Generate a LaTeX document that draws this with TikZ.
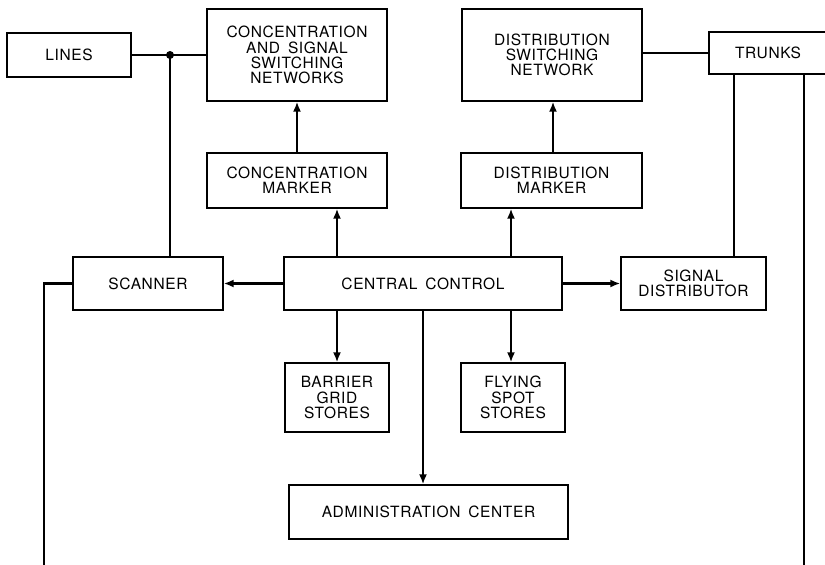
\documentclass[tikz,border=0pt]{standalone}
\usepackage{fontspec}
\setmainfont{TeX Gyre Heros}[LetterSpace=4, WordSpace=1.6]
\usetikzlibrary{arrows.meta}
\begin{document}
\begin{tikzpicture}[x=1pt,y=-1pt,
  box/.style={draw, line width=1.3pt, align=center, inner sep=0pt,
    font=\fontsize{15.5}{15.3}\selectfont},
  conn/.style={line width=2.6pt},
  arr/.style={conn, -{Latex[length=10pt,width=8pt]}}]
\useasboundingbox (0,0) rectangle (825,565);
% boxes
\node[box, minimum width=124pt, minimum height=44pt] (lines) at (69,55) {LINES};
\node[box, minimum width=180pt, minimum height=92pt] (conc) at (297,55) {CONCENTRATION\\AND SIGNAL\\SWITCHING\\NETWORKS};
\node[box, minimum width=180pt, minimum height=92pt] (dist) at (552,55) {DISTRIBUTION\\SWITCHING\\NETWORK};
\node[box, minimum width=118pt, minimum height=42pt] (trunks) at (768,53) {TRUNKS};
\node[box, minimum width=180pt, minimum height=55pt] (cm) at (297,180.5) {CONCENTRATION\\MARKER};
\node[box, minimum width=181pt, minimum height=55pt] (dm) at (551.5,180.5) {DISTRIBUTION\\MARKER};
\node[box, minimum width=278pt, minimum height=53pt] (cc) at (423,283.5) {CENTRAL CONTROL};
\node[box, minimum width=150pt, minimum height=53pt] (scan) at (148,283.5) {SCANNER};
\node[box, minimum width=145pt, minimum height=53pt] (sd) at (693.5,283.5) {SIGNAL\\DISTRIBUTOR};
\node[box, minimum width=104pt, minimum height=69pt] (bg) at (337,397.5) {BARRIER\\GRID\\STORES};
\node[box, minimum width=104pt, minimum height=69pt] (fs) at (513,397.5) {FLYING\\SPOT\\STORES};
\node[box, minimum width=279pt, minimum height=54pt] (adm) at (428.5,512) {ADMINISTRATION CENTER};
% coordinates
\coordinate (jn) at (170,55);
\coordinate (bl) at (44,565);
\coordinate (br) at (804,565);
\coordinate (t1) at (734,0);
\coordinate (c1) at (297,0);
\coordinate (c2) at (337,0);
\coordinate (d1) at (553,0);
\coordinate (d2) at (511,0);
\coordinate (a1) at (423,0);
% connectors
\draw[conn] (lines.east) -- (conc.west);
\fill (jn) circle (4pt);
\draw[conn] (jn) -- (jn |- scan.north);
\draw[conn] (trunks.west) -- (trunks.west -| dist.east);
\draw[arr] (c1 |- cm.north) -- (c1 |- conc.south);
\draw[arr] (c2 |- cc.north) -- (c2 |- cm.south);
\draw[arr] (d1 |- dm.north) -- (d1 |- dist.south);
\draw[arr] (d2 |- cc.north) -- (d2 |- dm.south);
\draw[arr] (cc.west) -- (scan.east);
\draw[arr] (cc.east) -- (sd.west);
\draw[arr] (c2 |- cc.south) -- (c2 |- bg.north);
\draw[arr] (d2 |- cc.south) -- (d2 |- fs.north);
\draw[arr] (a1 |- cc.south) -- (a1 |- adm.north);
\draw[conn] (t1 |- trunks.south) -- (t1 |- sd.north);
\draw[conn] (br |- trunks.south) -- (br);
\draw[conn] (scan.west) -| (bl);
\end{tikzpicture}
\end{document}
